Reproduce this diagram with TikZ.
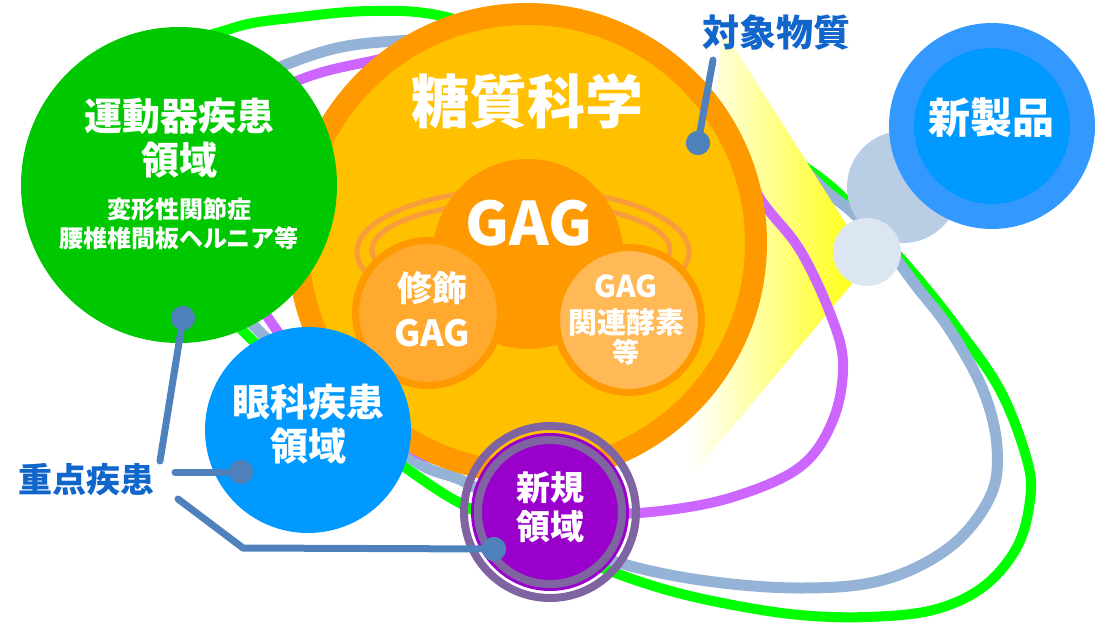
\documentclass[tikz,border=0pt]{standalone}
\usepackage{fontspec}
\setmainfont{Noto Sans CJK JP}
\definecolor{gcurve}{HTML}{00FF00}
\definecolor{bcurve}{HTML}{95B3D7}
\definecolor{pcurve}{HTML}{CC66FF}
\definecolor{dorange}{HTML}{FF9900}
\definecolor{gold}{HTML}{FFC000}
\definecolor{ringc}{HTML}{F99C3C}
\definecolor{lcirc}{HTML}{FFA92F}
\definecolor{rcirc}{HTML}{FFB957}
\definecolor{motor}{HTML}{00C800}
\definecolor{eye}{HTML}{0099FF}
\definecolor{newv}{HTML}{9900CC}
\definecolor{newr}{HTML}{8064A2}
\definecolor{prodo}{HTML}{3399FF}
\definecolor{prodi}{HTML}{0099FF}
\definecolor{bubA}{HTML}{B9CDE5}
\definecolor{bubB}{HTML}{DCE6F2}
\definecolor{cline}{HTML}{4F81BD}
\definecolor{ltext}{HTML}{1166CC}
\newcommand\fz[1]{\fontsize{#1}{#1}\selectfont\bfseries}
\begin{document}
\begin{tikzpicture}[x=1pt,y=-1pt,
  disc/.style={circle, inner sep=0pt, outer sep=0pt},
  lbl/.style={inner sep=0pt, text=white},
  connector/.style={draw=cline, line width=7pt, line cap=round, line join=round},
  dotn/.style={circle, fill=cline, inner sep=0pt, minimum size=24pt},
  orbit/.style={line width=10pt},
]
\useasboundingbox (0,0) rectangle (1095,624);

% orbits behind the beam
\draw[orbit, gcurve] plot[smooth cycle, tension=0.6] coordinates {
 (233,28) (300,17) (370,11) (437,15) (520,40) (650,80) (760,140) (823,180)
 (870,225) (915,275) (955,325) (1000,390) (1027,460) (1030,500) (1017,547)
 (983,587) (933,610) (867,617) (800,615) (733,605) (667,590) (600,567)
 (530,535) (467,507) (413,473) (330,410) (247,335) (200,280) (150,150) (170,60)};
\draw[orbit, line width=11pt, bcurve] plot[smooth cycle, tension=0.6] coordinates {
 (280,67) (337,48) (397,41) (470,40) (600,60) (700,110) (790,160) (827,192)
 (852,212) (885,245) (917,287) (950,330) (983,390) (997,447) (990,497)
 (950,547) (883,580) (800,588) (700,580) (610,560) (540,528) (467,483)
 (413,460) (330,390) (259,331) (215,270) (190,150) (230,90)};

% light beam
\shade[left color=white, middle color=yellow!65, right color=yellow]
  (870,262) -- (722,28) -- (690,478) -- cycle;

% purple orbit
\draw[orbit, pcurve] plot[smooth cycle, tension=0.6] coordinates {
 (297,81) (367,62) (450,50) (600,70) (720,140) (763,203) (800,250) (830,313)
 (843,363) (833,420) (800,467) (733,497) (660,511) (600,512) (530,495)
 (467,468) (413,450) (340,395) (273,325) (240,250) (230,120)};

% carbohydrate science circle
\node[disc, fill=gold, draw=dorange, line width=22pt, minimum size=458] (sci) at (527,243) {};
\node[lbl, font=\fz{58}] (scit) at (527,101) {糖質科学};

\draw[ringc, line width=5pt] (523,252) ellipse [x radius=166, y radius=63];
\draw[ringc, line width=5pt] (521,250) ellipse [x radius=149, y radius=48];

\node[disc, fill=dorange, minimum size=190] (gag) at (528,254) {};
\node[lbl, font=\fz{60}] (gagt) at (529,223) {GAG};

\node[disc, fill=lcirc, draw=dorange, line width=7pt, minimum size=145] (mod) at (428,313) {};
\node[lbl, font=\fz{35}] (modt1) at (432,288) {修飾};
\node[lbl, font=\fz{36}] (modt2) at (432,333) {GAG};

\node[disc, fill=rcirc, draw=dorange, line width=7pt, minimum size=145] (enz) at (629,320) {};
\node[lbl, font=\fz{30}] (enzt1) at (626,286) {GAG};
\node[lbl, font=\fz{29}] (enzt2) at (626,322) {関連酵素};
\node[lbl, font=\fz{27}] (enzt3) at (626,352) {等};

% motor organ disease
\node[disc, fill=motor, minimum size=316] (motor) at (179,185) {};
\node[lbl, font=\fz{38}] (motort1) at (179,116) {運動器疾患};
\node[lbl, font=\fz{38}] (motort2) at (179,160) {領域};
\node[lbl, font=\fz{24}] (motort3) at (179,209) {変形性関節症};
\node[lbl, font=\fz{24}] (motort4) at (179,238) {腰椎椎間板ヘルニア等};

% eye disease
\node[disc, fill=eye, minimum size=206] (eye) at (308,430) {};
\node[lbl, font=\fz{38}] (eyet1) at (308,402) {眼科疾患};
\node[lbl, font=\fz{38}] (eyet2) at (308,446) {領域};

% new field
\node[disc, draw=newr, line width=8pt, minimum size=172] (newo) at (550,512) {};
\node[disc, fill=newv, minimum size=158] (newd) at (550,512) {};
\node[disc, draw=newr, line width=8pt, minimum size=144] (newi) at (550,512) {};
\node[lbl, font=\fz{34}] (newt1) at (550,488) {新規};
\node[lbl, font=\fz{34}] (newt2) at (550,527) {領域};

% new product
\node[disc, fill=bubA, minimum size=112] (bubm) at (903,187) {};
\node[disc, fill=bubB, minimum size=68] (bubs) at (867,252) {};
\node[disc, fill=prodo, minimum size=206] (prodo) at (992,126) {};
\node[disc, fill=prodi, minimum size=156] (prodi) at (992,126) {};
\node[lbl, font=\fz{42}] (prodt) at (991,118) {新製品};

% labels
\node[inner sep=0pt, text=ltext, font=\fz{37}] (target) at (776,32) {対象物質};
\node[inner sep=0pt, text=ltext, font=\fz{34}] (focus) at (86,480) {重点疾患};

% connectors
\coordinate (ta) at (713,60);
\coordinate (f1) at (160,461);
\coordinate (f2) at (175,472);
\coordinate (f3) at (178,499);
\coordinate (f3b) at (243,548);
\node[dotn] (d4) at (698,143) {};
\node[dotn] (d1) at (183,318) {};
\node[dotn] (d2) at (241,472) {};
\node[dotn] (d3) at (494,549) {};
\draw[connector] (ta) -- (d4.center);
\draw[connector] (f1) -- (d1.center);
\draw[connector] (f2) -- (d2.center);
\draw[connector] (f3) -- (f3b) -- (d3.center);
\node[dotn] at (d4) {};
\node[dotn] at (d1) {};
\node[dotn] at (d2) {};
\node[dotn] at (d3) {};
\end{tikzpicture}
\end{document}
